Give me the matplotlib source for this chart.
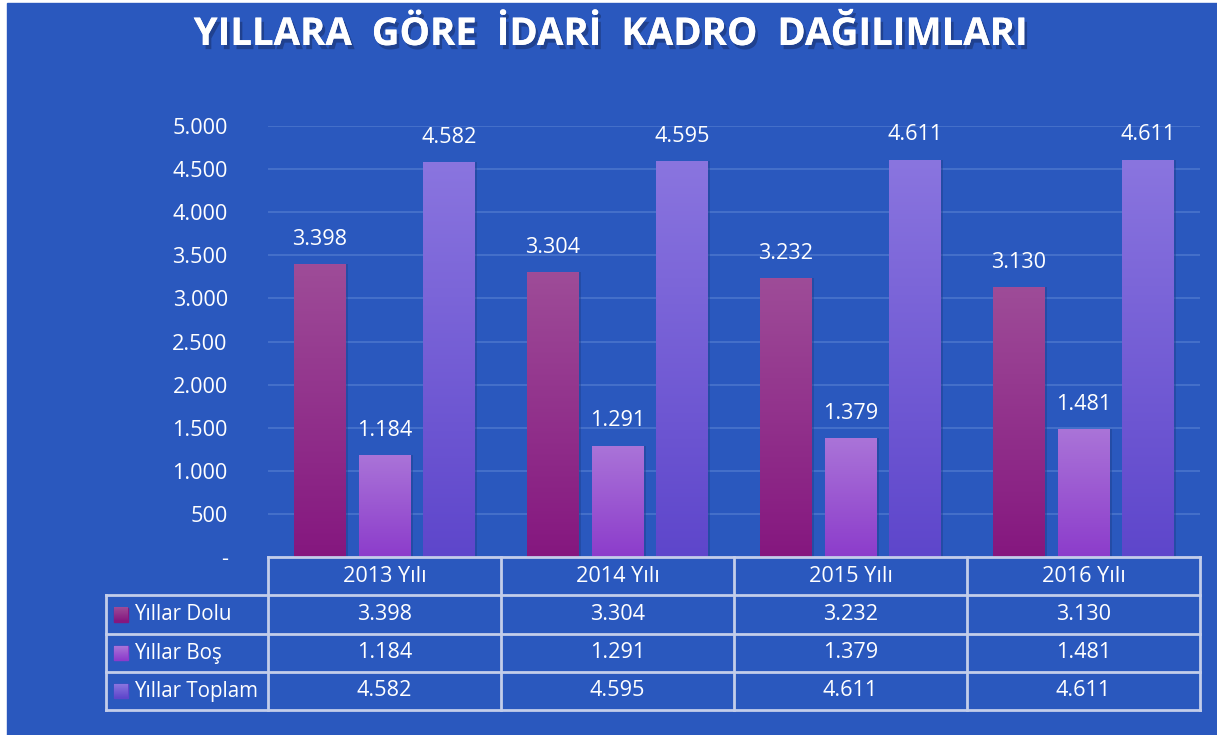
import matplotlib.pyplot as plt
import matplotlib.patheffects as pe
from matplotlib.patches import Rectangle
import matplotlib.transforms as mtransforms
from matplotlib.colors import LinearSegmentedColormap
import numpy as np

plt.rcParams['font.family'] = ['Open Sans', 'DejaVu Sans']

# data
years = ['2013 Yılı', '2014 Yılı', '2015 Yılı', '2016 Yılı']
series = ['Yıllar Dolu', 'Yıllar Boş', 'Yıllar Toplam']
dolu = [3398, 3304, 3232, 3130]
bos = [1184, 1291, 1379, 1481]
toplam = [4582, 4595, 4611, 4611]
values = [dolu, bos, toplam]
yticks = [0, 500, 1000, 1500, 2000, 2500, 3000, 3500, 4000, 4500, 5000]

# gradient colours (top, bottom) for each series
grads = [('#9E4C98', '#85177F'), ('#AA74D8', '#8C3CCB'), ('#8A75DF', '#5E46CB')]
bg = '#2A58BE'
line_col = '#C3CDEA'
fs = 15.6


def fmt(v):
    return '{:,}'.format(v).replace(',', '.')


fig = plt.figure(figsize=(12.17, 7.35), dpi=100)
fig.patch.set_facecolor('white')
fig.add_artist(Rectangle((7 / 1217, 0), 1 - 7 / 1217, 1 - 3 / 735,
                         transform=fig.transFigure, color=bg, zorder=0))

ax = fig.add_axes([268 / 1217, (735 - 557) / 735, (1200 - 268) / 1217, (557 - 126) / 735])
ax.set_facecolor(bg)
ax.patch.set_alpha(0)
for s in ax.spines.values():
    s.set_visible(False)

x = np.arange(len(years))
width = 0.223
offs = [-0.277, 0, 0.277]
ax.set_xlim(-0.5, len(years) - 0.5)
ax.set_ylim(0, 5000)
ax.set_yticks(yticks)
ax.set_yticklabels(['-'] + [fmt(v) for v in yticks[1:]], color='white', fontsize=fs)
ax.tick_params(axis='y', length=0, pad=29)
ax.set_xticks([])
ax.grid(axis='y', color='#4A74CC', linewidth=1.2)
ax.set_axisbelow(True)

grad_img = np.linspace(1, 0, 256).reshape(-1, 1)
for i, vals in enumerate(values):
    cmap = LinearSegmentedColormap.from_list('g%d' % i, [grads[i][1], grads[i][0]])
    # shadow
    ax.bar(x + offs[i] + 0.01, vals, width, color='#1E3F8A', alpha=0.45, zorder=2)
    bars = ax.bar(x + offs[i], vals, width, color=grads[i][1], zorder=3)
    for b, v in zip(bars, vals):
        x0 = b.get_x()
        im = ax.imshow(grad_img, cmap=cmap, aspect='auto', zorder=4,
                       extent=[x0, x0 + width, 0, v], vmin=0, vmax=1)
        im.set_clip_path(b)
        ax.text(x0 + width / 2, v + 165, fmt(v), ha='center', va='bottom',
                color='white', fontsize=fs, zorder=5)
ax.set_xlim(-0.5, len(years) - 0.5)
ax.set_ylim(0, 5000)

# data table below the axes
tr = mtransforms.blended_transform_factory(ax.transData, ax.transAxes)
ph = 557 - 126
row_y = [0, -38 / ph, -77 / ph, -115 / ph, -153 / ph]
lx = (106 - 268) / (1200 - 268) * 4 - 0.5
lkw = dict(color=line_col, linewidth=2, clip_on=False, transform=tr, zorder=6)
ax.plot([-0.5, 3.5], [row_y[0]] * 2, **lkw)
for yy in row_y[1:]:
    ax.plot([lx, 3.5], [yy] * 2, **lkw)
for xx in np.arange(-0.5, 4.0, 1.0):
    ax.plot([xx, xx], [row_y[0], row_y[-1]], **lkw)
ax.plot([lx, lx], [row_y[1], row_y[-1]], **lkw)

for j, yr in enumerate(years):
    ax.text(j, (row_y[0] + row_y[1]) / 2, yr, ha='center', va='center',
            color='white', fontsize=fs, transform=tr, clip_on=False)
for i, name in enumerate(series):
    yc = (row_y[i + 1] + row_y[i + 2]) / 2
    for j in range(len(years)):
        ax.text(j, yc, fmt(values[i][j]), ha='center', va='center',
                color='white', fontsize=fs, transform=tr, clip_on=False)
    # legend key
    kx = lx + 8 / 233
    kh = 14 / ph
    key = Rectangle((kx, yc - kh / 2), 14 / 233, kh, transform=tr,
                    clip_on=False, color=grads[i][1], zorder=6)
    ax.add_patch(key)
    cmap = LinearSegmentedColormap.from_list('k%d' % i, [grads[i][1], grads[i][0]])
    kim = ax.imshow(grad_img, cmap=cmap, aspect='auto', zorder=7, transform=tr,
                    extent=[kx, kx + 14 / 233, yc - kh / 2, yc + kh / 2], clip_on=False)
    kim.set_clip_path(key)
    ax.text(kx + 20 / 233, yc, name, ha='left', va='center', color='white',
            fontsize=14.8, transform=tr, clip_on=False)
ax.set_xlim(-0.5, len(years) - 0.5)
ax.set_ylim(0, 5000)

fig.text(0.503, 1 - 35 / 735, 'YILLARA  GÖRE  İDARİ  KADRO  DAĞILIMLARI', ha='center',
         va='center', color='white', fontsize=27.6, fontweight='bold',
         path_effects=[pe.withSimplePatchShadow(offset=(2, -3), shadow_rgbFace='#1A3370', alpha=0.6),
                       pe.Normal()])

fig.savefig('out.png', dpi=100, facecolor=fig.get_facecolor())
